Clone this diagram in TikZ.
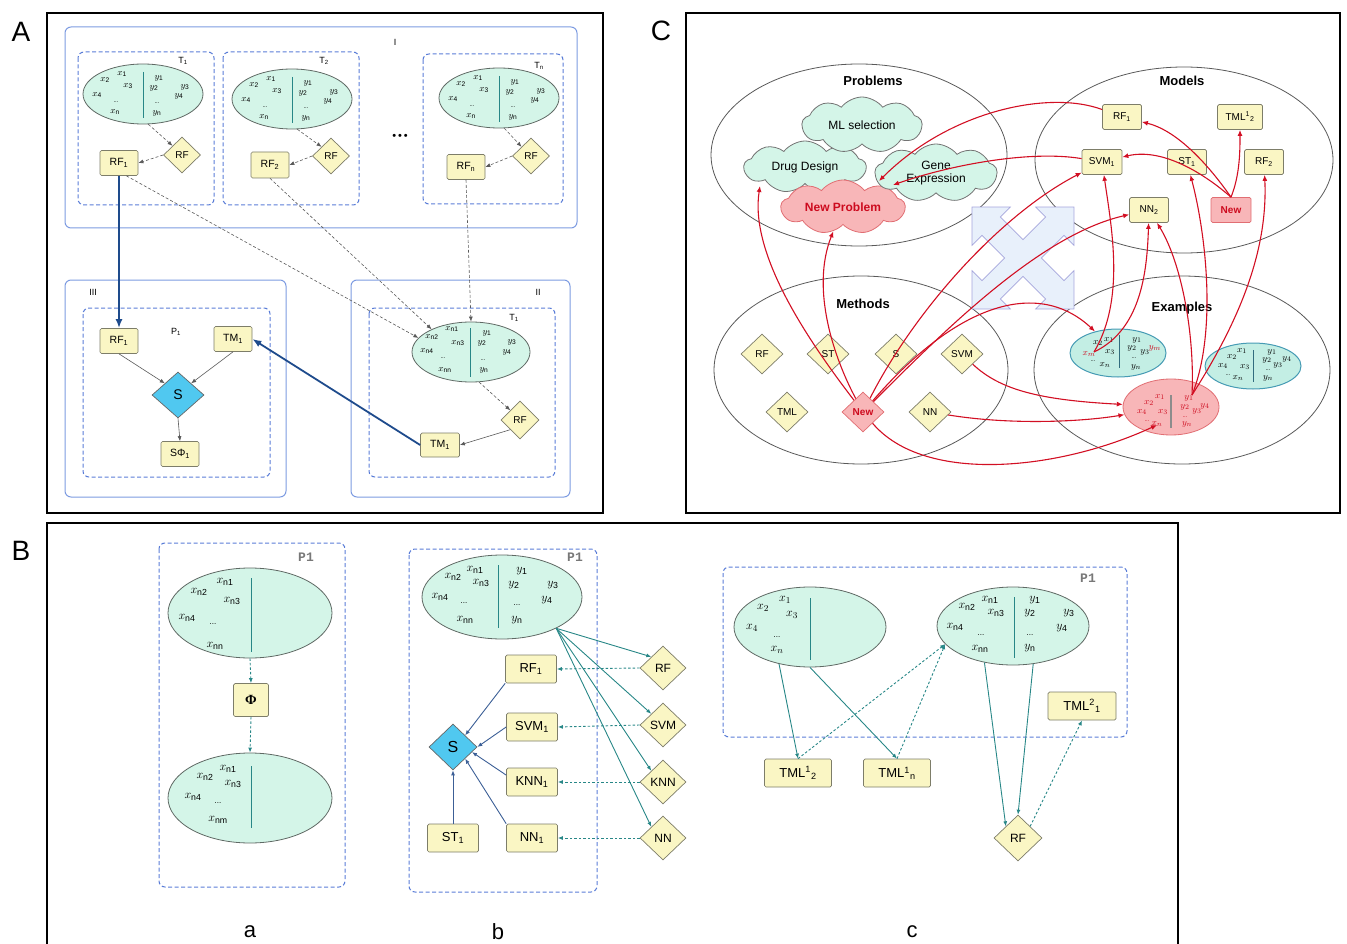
\documentclass[tikz,border=0pt]{standalone}
\usepackage{fontspec}
\setmainfont{Liberation Sans}
\newfontfamily\monob{Liberation Mono}
\newfontfamily\serfam{Liberation Serif}
\usetikzlibrary{arrows.meta,shapes.geometric,shapes.symbols}
\definecolor{boxfill}{RGB}{250,246,196}
\definecolor{boxdraw}{RGB}{125,125,105}
\definecolor{mint}{RGB}{212,245,232}
\definecolor{mintdraw}{RGB}{95,105,100}
\definecolor{cyanS}{RGB}{80,200,240}
\definecolor{pinkf}{RGB}{248,182,184}
\definecolor{pinkd}{RGB}{225,110,115}
\definecolor{redtxt}{RGB}{205,10,30}
\definecolor{redarr}{RGB}{210,15,35}
\definecolor{navy}{RGB}{30,75,140}
\definecolor{dashblue}{RGB}{90,125,215}
\definecolor{solidblue}{RGB}{125,155,225}
\definecolor{tealc}{RGB}{40,135,135}
\definecolor{steel}{RGB}{60,95,150}
\definecolor{exfill}{RGB}{195,238,228}
\definecolor{exdraw}{RGB}{70,155,180}
\definecolor{arrowfill}{RGB}{232,240,251}
\definecolor{arrowdraw}{RGB}{165,165,220}
\definecolor{ptgray}{RGB}{120,120,120}
\newcommand{\Xs}[1]{$x_{\mathrm{#1}}$}
\newcommand{\Ys}[1]{$y_{\mathrm{#1}}$}
\newcommand{\putl}[4]{\node[#1] at (#2,#3) {#4};}
\tikzset{
 lbl/.style={font=\fontsize{9}{10}\selectfont, inner sep=0pt},
 ybox/.style={draw=boxdraw, fill=boxfill, rounded corners=1.5pt, inner sep=1pt, line width=0.7pt, font=\fontsize{10.5}{12}\selectfont},
 ydia/.style={diamond, draw=boxdraw, fill=boxfill, inner sep=0pt, line width=0.7pt, font=\fontsize{10}{12}\selectfont},
 sdia/.style={diamond, draw=black!60, fill=cyanS, inner sep=0pt, line width=0.7pt, font=\fontsize{14}{16}\selectfont},
 mintell/.style={ellipse, draw=mintdraw, fill=mint, inner sep=0pt, line width=0.8pt},
 vl/.style={draw=tealc, line width=1pt},
 dashbox/.style={draw=dashblue, dash pattern=on 4pt off 2.5pt, rounded corners=6pt, line width=1pt},
 solidbox/.style={draw=solidblue, rounded corners=6pt, line width=1pt},
 dgarr/.style={draw=black!65, dash pattern=on 3pt off 2pt, line width=0.6pt, -{Latex[length=5pt,width=4pt]}},
 garr/.style={draw=black!65, line width=0.6pt, -{Latex[length=5pt,width=4pt]}},
 navarr/.style={draw=navy, line width=1.8pt, -{Latex[length=9pt,width=7pt]}},
 bigell/.style={ellipse, draw=black!65, inner sep=0pt, line width=0.8pt},
 btitle/.style={font=\bfseries\fontsize{13}{15}\selectfont, inner sep=0pt},
 pbox/.style={ybox, fill=pinkf, draw=pinkd, text=redtxt, font=\bfseries\fontsize{10}{12}\selectfont},
 pdia/.style={ydia, fill=pinkf, draw=pinkd, text=redtxt, font=\bfseries\fontsize{10}{12}\selectfont},
 exell/.style={ellipse, draw=exdraw, fill=exfill, inner sep=0pt, line width=1pt},
 pell/.style={ellipse, draw=pinkd, fill=pinkf, inner sep=0pt, line width=0.8pt},
 rarr/.style={draw=redarr, line width=1.1pt, -{Latex[length=6pt,width=5pt]}},
 cloudst/.style={cloud, cloud puffs=9, cloud puff arc=105, cloud ignores aspect, draw=black!55, fill=mint, inner sep=0pt, line width=0.8pt, font=\fontsize{12}{13.5}\selectfont, align=center},
 ptitle/.style={font=\monob\bfseries\fontsize{13}{14}\selectfont, text=ptgray, inner sep=0pt},
 tarr/.style={draw=tealc, line width=0.9pt, -{Latex[length=5pt,width=4pt]}},
 tdash/.style={draw=tealc, dash pattern=on 2.5pt off 2pt, line width=0.9pt, -{Latex[length=5pt,width=4pt]}},
 sarr/.style={draw=steel, line width=0.9pt, -{Latex[length=5pt,width=4pt]}},
 etA/.style={font=\fontsize{9.5}{10}\selectfont, inner sep=0pt},
 etB/.style={font=\fontsize{12.5}{13}\selectfont, inner sep=0pt},
 etC/.style={font=\fontsize{9.5}{10}\selectfont, inner sep=0pt},
 dotA/.style={font=\fontsize{6}{6}\selectfont, inner sep=0pt},
 dotB/.style={font=\fontsize{8}{8}\selectfont, inner sep=0pt},
 bbox/.style={ybox, minimum width=51, minimum height=28, font=\fontsize{13}{14}\selectfont},
 bdia/.style={ydia, minimum width=46, minimum height=44, font=\fontsize{12}{13}\selectfont},
 cbox/.style={ybox, minimum width=39, minimum height=25, font=\fontsize{10}{12}\selectfont},
 cdia/.style={ydia, minimum width=42, minimum height=40},
 panlab/.style={font=\fontsize{28}{30}\selectfont, inner sep=0pt},
 sublab/.style={font=\fontsize{22}{24}\selectfont, inner sep=0pt},
}
\newcommand{\TEll}[3]{%
 \node[mintell, minimum width=120, minimum height=60] (#1) at (#2,#3) {};
 \draw[vl] ({#2},{#3-22}) -- ({#2},{#3+24});
 \putl{etA}{{#2-38}}{{#3-14}}{\Xs{2}}
 \putl{etA}{{#2-21}}{{#3-20}}{\Xs{1}}
 \putl{etA}{{#2-15}}{{#3-8}}{\Xs{3}}
 \putl{etA}{{#2-46}}{{#3+1}}{\Xs{4}}
 \putl{dotA}{{#2-27}}{{#3+8}}{...}
 \putl{etA}{{#2-28}}{{#3+18}}{\Xs{n}}
 \putl{etA}{{#2+16}}{{#3-16}}{\Ys{1}}
 \putl{etA}{{#2+11}}{{#3-6}}{\Ys{2}}
 \putl{etA}{{#2+42}}{{#3-7}}{\Ys{3}}
 \putl{etA}{{#2+36}}{{#3+2}}{\Ys{4}}
 \putl{dotA}{{#2+14}}{{#3+9}}{...}
 \putl{etA}{{#2+14}}{{#3+19}}{\Ys{n}}
}
\begin{document}
\begin{tikzpicture}[x=1pt,y=-1pt]
\useasboundingbox (0,0) rectangle (1347,944);
% ---------- frames ----------
\draw[line width=2.2pt] (47,13) rectangle (603,513);
\draw[line width=2.2pt] (686,13) rectangle (1340,513);
\draw[line width=2.2pt] (47,950) -- (47,523) -- (1178,523) -- (1178,950);
\node[panlab] (labA) at (21,32) {A};
\node[panlab] (labC) at (661,31) {C};
\node[panlab] (labB) at (21,551) {B};

% ================= PANEL A =================
\draw[solidbox] (65,27) rectangle (577,228);
\node[lbl] (lI) at (395,42) {I};
\draw[dashbox] (78,52) rectangle (214,205);
\draw[dashbox] (223,52) rectangle (359,205);
\draw[dashbox] (423,54) rectangle (563,204);
\node[lbl] (lT1) at (183,61) {T\textsubscript{1}};
\node[lbl] (lT2) at (324,61) {T\textsubscript{2}};
\node[lbl] (lTn) at (539,66) {T\textsubscript{n}};
\node[font=\fontsize{11}{12}\selectfont] (dots) at (400,137) {\textbullet\,\textbullet\,\textbullet};
\TEll{T1e}{143}{94}
\TEll{T2e}{292}{99}
\TEll{Tne}{499}{98}
\node[ydia, minimum width=37, minimum height=36] (rfT1) at (182,155) {RF};
\node[ydia, minimum width=37, minimum height=36] (rfT2) at (331,156) {RF};
\node[ydia, minimum width=37, minimum height=36] (rfTn) at (531,156) {RF};
\node[ybox, minimum width=38, minimum height=25] (aRF1) at (119,163) {RF\textsubscript{1}};
\node[ybox, minimum width=38, minimum height=26] (aRF2) at (270,165) {RF\textsubscript{2}};
\node[ybox, minimum width=38, minimum height=25] (aRFn) at (466,167) {RF\textsubscript{n}};
\draw[dgarr] (T1e.-80) -- (rfT1.north west);
\draw[dgarr] (T2e.-80) -- (rfT2.north west);
\draw[dgarr] (Tne.-80) -- (rfTn.north west);
\draw[dgarr] (rfT1.west) -- (aRF1.east);
\draw[dgarr] (rfT2.west) -- (aRF2.east);
\draw[dgarr] (rfTn.west) -- (aRFn.east);

% box III
\draw[solidbox] (65,280) rectangle (286,497);
\node[lbl] (lIII) at (93,292) {III};
\draw[dashbox] (83,308) rectangle (270,477);
\node[lbl] (lP1) at (176,332) {P\textsubscript{1}};
\node[ybox, minimum width=38, minimum height=25] (bRF1) at (119,341) {RF\textsubscript{1}};
\node[ybox, minimum width=38, minimum height=25] (bTM1) at (233,339) {TM\textsubscript{1}};
\node[sdia, minimum width=52, minimum height=46] (aS) at (178,395) {S};
\node[ybox, minimum width=38, minimum height=25] (aSP) at (180,454) {SΦ\textsubscript{1}};
\draw[garr] (bRF1.south) -- (aS.north west);
\draw[garr] (bTM1.south) -- (aS.north east);
\draw[garr] (aS.south) -- (aSP.north);

% box II
\draw[solidbox] (351,280) rectangle (570,497);
\node[lbl] (lII) at (538,292) {II};
\draw[dashbox] (369,308) rectangle (555,477);
\node[lbl] (lT1b) at (514,318) {T\textsubscript{1}};
\node[mintell, minimum width=118, minimum height=60] (IIe) at (471,352) {};
\draw[vl] (470,328) -- (470,377);
\putl{etA}{452}{329}{\Xs{n1}}
\putl{etA}{432}{337}{\Xs{n2}}
\putl{etA}{458}{343}{\Xs{n3}}
\putl{etA}{427}{351}{\Xs{n4}}
\putl{dotA}{443}{358}{...}
\putl{etA}{445}{370}{\Xs{nn}}
\putl{etA}{487}{333}{\Ys{1}}
\putl{etA}{482}{343}{\Ys{2}}
\putl{etA}{512}{342}{\Ys{3}}
\putl{etA}{507}{352}{\Ys{4}}
\putl{dotA}{483}{360}{...}
\putl{etA}{484}{370}{\Ys{n}}
\node[ydia, minimum width=38, minimum height=38] (IIrf) at (520,420) {RF};
\node[ybox, minimum width=39, minimum height=24] (IITM) at (440,445) {TM\textsubscript{1}};
\draw[dgarr] (IIe.-75) -- (IIrf.north west);
\draw[garr] (IIrf.south west) -- (IITM.east);
\draw[dgarr] (aRF1.-60) -- (IIe.165);
\draw[dgarr] (aRF2.south) -- (IIe.150);
\draw[dgarr] (aRFn.south) -- (IIe.north);
\draw[navarr] (aRF1.south) -- (bRF1.north);
\draw[navarr] (IITM.west) -- (bTM1.east);

% ================= PANEL C =================
\node[bigell, minimum width=296, minimum height=182] (probE) at (859,155) {};
\node[bigell, minimum width=298, minimum height=186] (modE) at (1184,160) {};
\node[bigell, minimum width=294, minimum height=188] (methE) at (861,370) {};
\node[bigell, minimum width=296, minimum height=188] (exE) at (1182,370) {};
\node[btitle] (tProb) at (873,81) {Problems};
\node[btitle] (tMod) at (1182,81) {Models};
\node[btitle] (tMeth) at (863,304) {Methods};
\node[btitle] (tEx) at (1182,308) {Examples};

\begin{scope}[shift={(1023,258)}, rotate=45]
\draw[draw=arrowdraw, fill=arrowfill, line width=0.8pt] (13,13) -- (45,13) -- (45,27) -- (72,0) -- (45,-27) -- (45,-13) -- (13,-13) -- (13,-45) -- (27,-45) -- (0,-72) -- (-27,-45) -- (-13,-45) -- (-13,-13) -- (-45,-13) -- (-45,-27) -- (-72,0) -- (-45,27) -- (-45,13) -- (-13,13) -- (-13,45) -- (-27,45) -- (0,72) -- (27,45) -- (13,45) -- cycle;
\end{scope}

\node[cloudst, minimum width=122, minimum height=52] (drug) at (805,167) {Drug Design};
\node[cloudst, minimum width=120, minimum height=56] (mlsel) at (862,125) {ML selection};
\node[cloudst, minimum width=124, minimum height=54, fill=pinkf, draw=pinkd, text=redtxt, font=\bfseries\fontsize{12}{13.5}\selectfont] (newp) at (843,207) {New Problem};
\node[cloudst, minimum width=122, minimum height=58] (gene) at (936,173) {Gene\\Expression};

\node[cbox] (mRF1) at (1122,117) {RF\textsubscript{1}};
\node[cbox, minimum width=45] (mTML) at (1240,117) {TML\textsuperscript{1}\textsubscript{2}};
\node[cbox, minimum width=40] (mSVM) at (1102,162) {SVM\textsubscript{1}};
\node[cbox] (mST) at (1187,162) {ST\textsubscript{1}};
\node[cbox] (mRF2) at (1264,162) {RF\textsubscript{2}};
\node[cbox] (mNN2) at (1149,210) {NN\textsubscript{2}};
\node[pbox, minimum width=40, minimum height=25] (mNew) at (1231,210) {New};

\node[cdia] (dRF) at (762,354) {RF};
\node[cdia] (dST) at (828,354) {ST};
\node[cdia] (dS) at (896,354) {S};
\node[cdia] (dSVM) at (962,354) {SVM};
\node[cdia] (dTML) at (787,412) {TML};
\node[pdia, minimum width=42, minimum height=40] (dNew) at (863,412) {New};
\node[cdia] (dNN) at (930,412) {NN};

\node[exell, minimum width=96, minimum height=48] (ex1) at (1118,353) {};
\draw[draw=exdraw!70!black, line width=1pt] (1119,335) -- (1119,368);
\putl{etC}{1098}{343}{$x_2$}
\putl{etC}{1109}{340}{$x_1$}
\putl{etC,text=redtxt}{1089}{354}{$x_m$}
\putl{etC}{1110}{352}{$x_3$}
\putl{dotA}{1093}{361}{...}
\putl{etC}{1105}{365}{$x_n$}
\putl{etC}{1137}{340}{$y_1$}
\putl{etC}{1132}{348}{$y_2$}
\putl{etC}{1145}{352}{$y_3$}
\putl{etC,text=redtxt}{1155}{348}{$y_m$}
\putl{dotA}{1134}{358}{...}
\putl{etC}{1136}{367}{$y_n$}

\node[exell, minimum width=96, minimum height=46] (ex2) at (1253,366) {};
\draw[draw=exdraw!70!black, line width=1pt] (1253,350) -- (1253,382);
\putl{etC}{1232}{357}{$x_2$}
\putl{etC}{1242}{351}{$x_1$}
\putl{etC}{1223}{366}{$x_4$}
\putl{etC}{1245}{367}{$x_3$}
\putl{dotA}{1228}{375}{...}
\putl{etC}{1238}{378}{$x_n$}
\putl{etC}{1272}{352}{$y_1$}
\putl{etC}{1267}{360}{$y_2$}
\putl{etC}{1287}{359}{$y_4$}
\putl{etC}{1278}{365}{$y_3$}
\putl{dotA}{1268}{370}{...}
\putl{etC}{1268}{378}{$y_n$}

\node[pell, minimum width=96, minimum height=56] (exP) at (1171,407) {};
\draw[draw=black!45, line width=1.2pt] (1171,395) -- (1171,428);
\putl{etC,text=redtxt}{1149}{403}{$x_2$}
\putl{etC,text=redtxt}{1160}{397}{$x_1$}
\putl{etC,text=redtxt}{1142}{412}{$x_4$}
\putl{etC,text=redtxt}{1163}{412}{$x_3$}
\putl{dotA,text=redtxt}{1147}{421}{...}
\putl{etC,text=redtxt}{1157}{424}{$x_n$}
\putl{etC,text=redtxt}{1189}{398}{$y_1$}
\putl{etC,text=redtxt}{1185}{407}{$y_2$}
\putl{etC,text=redtxt}{1197}{411}{$y_3$}
\putl{etC,text=redtxt}{1205}{406}{$y_4$}
\putl{dotA,text=redtxt}{1185}{417}{...}
\putl{etC,text=redtxt}{1187}{424}{$y_n$}

\coordinate (exm) at (1094,352);
\coordinate (exPy) at (1192,395);
\coordinate (exPn) at (1157,425);
\coordinate (tipNP) at (879,181);
\coordinate (tipGE) at (893,185);
\coordinate (tipDD) at (760,186);

\draw[rarr] (dNew) .. controls (800,330) and (750,250) .. (tipDD);
\draw[rarr] (dNew) .. controls (835,360) and (810,290) .. (newp);
\draw[rarr] (dNew) .. controls (915,310) and (1000,215) .. (mSVM);
\draw[rarr] (dNew) .. controls (945,330) and (1040,235) .. (mNN2);
\draw[rarr] (dNew) .. controls (960,300) and (1040,280) .. (ex1);
\draw[rarr] (dNew) .. controls (925,485) and (1060,470) .. (exPn);
\draw[rarr] (mNew.north) .. controls (1205,160) and (1175,130) .. (mRF1);
\draw[rarr] (mNew.north) .. controls (1240,175) and (1240,150) .. (mTML);
\draw[rarr] (mNew.north) .. controls (1200,170) and (1160,148) .. (mSVM);
\draw[rarr] (mRF1) .. controls (1050,90) and (950,110) .. (tipNP);
\draw[rarr] (mSVM) .. controls (1030,150) and (950,165) .. (tipGE);
\draw[rarr] (exm) .. controls (1125,300) and (1112,230) .. (mSVM);
\draw[rarr] (exm) .. controls (1140,330) and (1147,275) .. (mNN2);
\draw[rarr] (exPy) .. controls (1195,330) and (1180,260) .. (mNN2);
\draw[rarr] (exPy) .. controls (1218,330) and (1205,230) .. (mST);
\draw[rarr] (exPy) .. controls (1240,320) and (1268,250) .. (mRF2);
\draw[rarr] (dSVM) .. controls (1000,390) and (1040,400) .. (exP);
\draw[rarr] (dNN) .. controls (1010,425) and (1080,422) .. (exP);

% ================= PANEL B =================
% (a)
\draw[dashbox] (159,543) rectangle (345,887);
\node[ptitle] (paP1) at (306,557) {P1};
\node[mintell, minimum width=164, minimum height=90] (aE1) at (250,613) {};
\draw[vl] (251,578) -- (251,652);
\putl{etB}{225}{582}{\Xs{n1}}
\putl{etB}{199}{592}{\Xs{n2}}
\putl{etB}{232}{601}{\Xs{n3}}
\putl{etB}{187}{618}{\Xs{n4}}
\putl{dotB}{213}{624}{...}
\putl{etB}{215}{646}{\Xs{nn}}
\node[ybox, minimum width=35, minimum height=33] (aPhi) at (251,700) {\serfam\bfseries\fontsize{14}{15}\selectfont Φ};
\node[mintell, minimum width=164, minimum height=90] (aE2) at (250,798) {};
\draw[vl] (251,766) -- (251,828);
\putl{etB}{228}{769}{\Xs{n1}}
\putl{etB}{205}{777}{\Xs{n2}}
\putl{etB}{233}{784}{\Xs{n3}}
\putl{etB}{193}{797}{\Xs{n4}}
\putl{dotB}{218}{803}{...}
\putl{etB}{218}{820}{\Xs{nm}}
\draw[tdash] (aE1.south) -- (aPhi.north);
\draw[tdash] (aPhi.south) -- (aE2.north);
\node[sublab] (la) at (250,932) {a};

% (b)
\draw[dashbox] (409,549) rectangle (597,892);
\node[ptitle] (pbP1) at (575,557) {P1};
\node[mintell, minimum width=160, minimum height=84] (bE) at (502,597) {};
\draw[vl] (498,565) -- (498,628);
\putl{etB}{475}{570}{\Xs{n1}}
\putl{etB}{453}{577}{\Xs{n2}}
\putl{etB}{481}{583}{\Xs{n3}}
\putl{etB}{440}{597}{\Xs{n4}}
\putl{dotB}{464}{603}{...}
\putl{etB}{465}{620}{\Xs{nn}}
\putl{etB}{522}{571}{\Ys{1}}
\putl{etB}{514}{585}{\Ys{2}}
\putl{etB}{553}{585}{\Ys{3}}
\putl{etB}{547}{600}{\Ys{4}}
\putl{dotB}{517}{605}{...}
\putl{etB}{517}{620}{\Ys{n}}
\node[bbox] (bRF1b) at (531,669) {RF\textsubscript{1}};
\node[bbox] (bSVM) at (532,727) {SVM\textsubscript{1}};
\node[bbox] (bKNN) at (532,782) {KNN\textsubscript{1}};
\node[bbox] (bNN) at (532,838) {NN\textsubscript{1}};
\node[bbox] (bST) at (453,838) {ST\textsubscript{1}};
\node[sdia, minimum width=48, minimum height=46, font=\fontsize{16}{18}\selectfont] (bS) at (453,747) {S};
\node[bdia] (bdRF) at (663,668) {RF};
\node[bdia] (bdSVM) at (663,725) {SVM};
\node[bdia] (bdKNN) at (663,782) {KNN};
\node[bdia] (bdNN) at (663,838) {NN};
\draw[tarr] (bE.-30) -- (bdRF.north west);
\draw[tarr] (bE.-30) -- (bdSVM.north west);
\draw[tarr] (bE.-30) -- (bdKNN.north west);
\draw[tarr] (bE.-30) -- (bdNN.north west);
\draw[tdash] (bdRF.west) -- (bRF1b.east);
\draw[tdash] (bdSVM.west) -- (bSVM.east);
\draw[tdash] (bdKNN.west) -- (bKNN.east);
\draw[tdash] (bdNN.west) -- (bNN.east);
\draw[sarr] (bRF1b.south west) -- (bS.north east);
\draw[sarr] (bSVM.west) -- (bS.east);
\draw[sarr] (bKNN.165) -- (bS.-15);
\draw[sarr] (bNN.north west) -- (bS.south east);
\draw[sarr] (bST.north) -- (bS.south);
\node[sublab] (lb) at (498,932) {b};

% (c)
\draw[dashbox] (723,567) rectangle (1127,737);
\node[ptitle] (pcP1) at (1088,578) {P1};
\node[mintell, minimum width=152, minimum height=80] (cE1) at (810,627) {};
\draw[vl] (810,598) -- (810,660);
\putl{etB}{785}{600}{$x_1$}
\putl{etB}{763}{608}{$x_2$}
\putl{etB}{792}{615}{$x_3$}
\putl{etB}{752}{628}{$x_4$}
\putl{dotB}{777}{637}{...}
\putl{etB}{777}{650}{$x_n$}
\node[mintell, minimum width=152, minimum height=78] (cE2) at (1013,626) {};
\draw[vl] (1014,597) -- (1014,658);
\putl{etB}{990}{600}{\Xs{n1}}
\putl{etB}{967}{607}{\Xs{n2}}
\putl{etB}{996}{613}{\Xs{n3}}
\putl{etB}{955}{627}{\Xs{n4}}
\putl{dotB}{981}{635}{...}
\putl{etB}{980}{649}{\Xs{nn}}
\putl{etB}{1035}{600}{\Ys{1}}
\putl{etB}{1030}{613}{\Ys{2}}
\putl{etB}{1069}{613}{\Ys{3}}
\putl{etB}{1062}{628}{\Ys{4}}
\putl{dotB}{1030}{635}{...}
\putl{etB}{1030}{648}{\Ys{n}}
\node[bbox, minimum width=67] (cTML12) at (798,773) {TML\textsuperscript{1}\textsubscript{2}};
\node[bbox, minimum width=67] (cTML1n) at (897,773) {TML\textsuperscript{1}\textsubscript{n}};
\node[bbox, minimum width=68] (cTML21) at (1082,706) {TML\textsuperscript{2}\textsubscript{1}};
\node[bdia, minimum width=48, minimum height=46] (cRF) at (1018,838) {RF};
\draw[tarr] (cE1.-130) -- (cTML12.north);
\draw[tarr] (cE1.south) -- (cTML1n.north);
\draw[tdash] (cTML12.north) -- (cE2.-165);
\draw[tdash] (cTML1n.north) -- (cE2.-165);
\draw[tarr] (cE2.-128) -- (cRF.north west);
\draw[tarr] (cE2.-62) -- (cRF.north);
\draw[tdash] (cRF.north east) -- (cTML21.south);
\node[sublab] (lc) at (912,932) {c};
\end{tikzpicture}
\end{document}
